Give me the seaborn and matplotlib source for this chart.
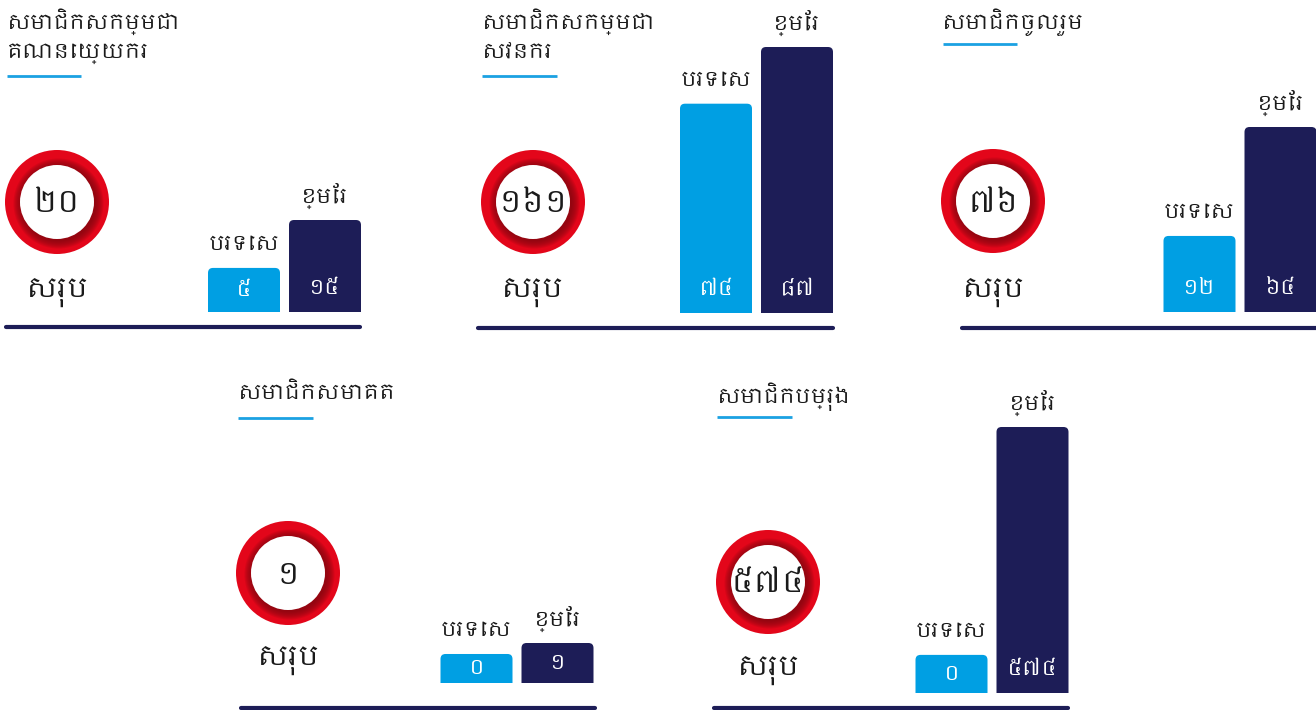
import numpy as np
import pandas as pd
import matplotlib
matplotlib.use("Agg")
import matplotlib.pyplot as plt
from matplotlib import font_manager
from matplotlib.patches import Circle, FancyBboxPatch
import seaborn as sns

# Дані
titles = [
    "សមាជិកសកម្មជា\nគណនេយ្យករ",
    "សមាជិកសកម្មជា\nសវនករ",
    "សមាជិកចូលរួម",
    "សមាជិកសមាគត",
    "សមាជិកបម្រុង",
]
categories = ["បរទេស", "ខ្មែរ"]
foreign = [5, 74, 12, 0, 0]
khmer = [15, 87, 64, 1, 574]
total_label = "សរុប"

# Кольори
LIGHT = "#009FE3"
DARK = "#1D1D57"
RED = "#E3061A"
RED_DARK = "#7A0510"
ULINE = "#1BA1E2"
TEXT = "#1A1A1A"

W, H = 1316, 710

# Макет панелей у пікселях (x-центр першого стовпця, базова лінія, верх найвищого, низ осі)
panels = [
    dict(bar_x=244, base=312, top=220, lo=-4.2, ring=(57, 202), total=(57, 293),
         title=(7, 8), uline=(7, 81, 76), rule=(6, 360, 327)),
    dict(bar_x=716, base=313, top=47, lo=26, ring=(533, 202), total=(532, 293),
         title=(482, 8), uline=(482, 557, 76), rule=(478, 833, 328)),
    dict(bar_x=1199.5, base=312, top=127, lo=-24.3, ring=(993, 201), total=(993, 293),
         title=(942, 8), uline=(943, 1017, 44), rule=(962, 1316, 328)),
    dict(bar_x=476.5, base=683, top=643, lo=-2.64, ring=(288, 573), total=(288, 661),
         title=(238, 382), uline=(238, 313, 418), rule=(241, 595, 708)),
    dict(bar_x=951.5, base=693, top=427, lo=-96, ring=(768, 582), total=(768, 671),
         title=(717, 382), uline=(717, 792, 417), rule=(714, 1068, 708)),
]
STEP = 81      # відстань між стовпцями, px
BAR_PX = 72    # ширина стовпця, px
RADIUS = 5     # заокруглення кутів, px

sns.set_theme(style="white")
khmer_fonts = [f.name for f in font_manager.fontManager.ttflist
               if "khmer" in f.name.lower() or "khmer" in f.fname.lower()]
plt.rcParams["font.family"] = khmer_fonts[:1] + ["DejaVu Sans"]

to_kh = str.maketrans("0123456789", "០១២៣៤៥៦៧៨៩")

fig = plt.figure(figsize=(W / 100, H / 100), dpi=100)
bg = fig.add_axes([0, 0, 1, 1])
bg.set_xlim(0, W)
bg.set_ylim(H, 0)
bg.axis("off")

for i, p in enumerate(panels):
    vals = [foreign[i], khmer[i]]
    total = sum(vals)

    # Заголовок і підкреслення
    tx, ty = p["title"]
    bg.text(tx, ty, titles[i], ha="left", va="top", fontsize=15, color=TEXT, linespacing=1.45)
    x0, x1, uy = p["uline"]
    bg.plot([x0, x1], [uy, uy], color=ULINE, lw=2, solid_capstyle="butt")
    x0, x1, ry = p["rule"]
    bg.plot([x0, x1], [ry, ry], color=DARK, lw=3, solid_capstyle="round")

    # Кільце з підсумком
    cx, cy = p["ring"]
    bg.add_patch(Circle((cx, cy), 52, color=RED, lw=0))
    for r in np.linspace(45, 37.5, 8):
        bg.add_patch(Circle((cx + 1.5, cy + 1.5), r, color=RED_DARK, alpha=0.15, lw=0))
    bg.add_patch(Circle((cx, cy), 37, color="white", lw=0))
    bg.text(cx, cy + 2, str(total).translate(to_kh), ha="center", va="center",
            fontsize=22, color=TEXT)
    sx, sy = p["total"]
    bg.text(sx, sy, total_label, ha="center", va="center", fontsize=20, color=TEXT)

    # Стовпці
    hi = max(vals)
    s = (p["base"] - p["top"]) / (hi - p["lo"])   # px на одиницю
    pad_px = 10
    ax = fig.add_axes([
        (p["bar_x"] - STEP / 2) / W,
        (H - p["base"]) / H,
        2 * STEP / W,
        (p["base"] - p["top"] + pad_px) / H,
    ])
    df = pd.DataFrame({"cat": categories, "val": vals})
    sns.barplot(data=df, x="cat", y="val", hue="cat", palette=[LIGHT, DARK],
                width=BAR_PX / STEP, saturation=1, legend=False, ax=ax)
    ax.set_xlim(-0.5, 1.5)
    ax.set_ylim(p["lo"], hi + pad_px / s)
    ax.axis("off")

    rx = RADIUS / STEP
    for bar in list(ax.patches):
        bx, bw, bh = bar.get_x(), bar.get_width(), bar.get_height()
        fc = bar.get_facecolor()
        bar.remove()
        bottom = p["lo"] - 20 / s
        ax.add_patch(FancyBboxPatch(
            (bx, bottom), bw, bh - bottom,
            boxstyle=f"round,pad=0,rounding_size={rx}",
            mutation_aspect=(RADIUS / s) / rx, fc=fc, ec="none"))

    for j, v in enumerate(vals):
        h_px = s * (v - p["lo"])
        ax.annotate(str(v).translate(to_kh), xy=(j, p["lo"]), xytext=(0, min(24, h_px / 2)),
                    textcoords="offset pixels", ha="center", va="center",
                    fontsize=15, color="white", annotation_clip=False)
        ax.annotate(categories[j], xy=(j, v), xytext=(0, 24),
                    textcoords="offset pixels", ha="center", va="center",
                    fontsize=15, color=TEXT, annotation_clip=False)

fig.savefig("out.png", dpi=100)
